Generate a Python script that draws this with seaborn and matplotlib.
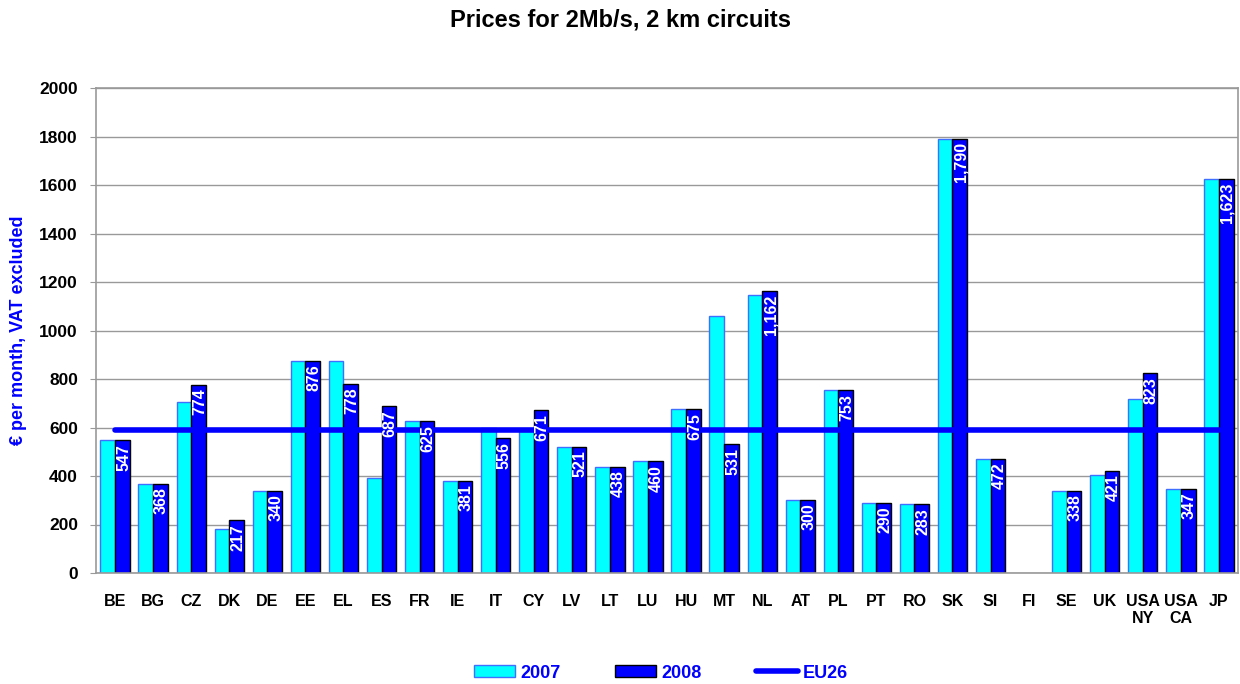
import numpy as np
import pandas as pd
import matplotlib
matplotlib.use('Agg')
import matplotlib.pyplot as plt
import seaborn as sns
from matplotlib.patches import Patch
from matplotlib.lines import Line2D

# data
countries = ['BE', 'BG', 'CZ', 'DK', 'DE', 'EE', 'EL', 'ES', 'FR', 'IE', 'IT', 'CY', 'LV', 'LT', 'LU',
             'HU', 'MT', 'NL', 'AT', 'PL', 'PT', 'RO', 'SK', 'SI', 'FI', 'SE', 'UK', 'USA\nNY', 'USA\nCA', 'JP']
prices_2007 = [547, 368, 707, 182, 340, 876, 873, 392, 625, 381, 600, 585, 521, 438, 460,
               675, 1060, 1146, 300, 753, 290, 283, 1790, 472, np.nan, 338, 404, 719, 347, 1623]
prices_2008 = [547, 368, 774, 217, 340, 876, 778, 687, 625, 381, 556, 671, 521, 438, 460,
               675, 531, 1162, 300, 753, 290, 283, 1790, 472, np.nan, 338, 421, 823, 347, 1623]
years = ['2007', '2008']
eu26 = 590

df = pd.DataFrame({
    'country': countries * 2,
    'year': [years[0]] * len(countries) + [years[1]] * len(countries),
    'price': prices_2007 + prices_2008,
})

sns.set_style('white')
plt.rcParams['font.family'] = ['Liberation Sans', 'DejaVu Sans']
plt.rcParams['font.weight'] = 'bold'
plt.rcParams['text.color'] = 'black'
plt.rcParams['xtick.color'] = 'black'
plt.rcParams['ytick.color'] = 'black'

fig = plt.figure(figsize=(12.4, 6.84), dpi=100)
ax = fig.add_axes([96 / 1240, 1 - 573 / 684, (1238 - 96) / 1240, (573 - 88) / 684])

bar_w = 0.77
sns.barplot(data=df, x='country', y='price', hue='year', order=countries,
            palette={'2007': '#00ffff', '2008': '#0000ff'}, width=bar_w, gap=0,
            saturation=1, ax=ax, legend=False, zorder=2)

edges = ['#3f6fff', 'black']
for cont, ec in zip(ax.containers, edges):
    for bar in cont:
        bar.set_edgecolor(ec)
        bar.set_linewidth(1.0)

# value labels on 2008 bars
for i, v in enumerate(prices_2008):
    if np.isnan(v):
        continue
    ax.text(i + bar_w / 4 + 0.03, v - 14, f'{int(v):,}',
            rotation=90, ha='center', va='top', color='white',
            fontsize=11.5, fontweight='bold', zorder=4)

# EU26 average line
ax.plot([0, len(countries) - 1], [eu26, eu26], color='#0000ff', lw=4, zorder=3)

ax.set_ylim(0, 2000)
ax.set_xlim(-0.5, len(countries) - 0.5)
ax.set_yticks(range(0, 2001, 200))
ax.yaxis.grid(True, color='#999999', lw=1)
ax.set_axisbelow(True)
for s in ax.spines.values():
    s.set_color('#999999')
    s.set_linewidth(1.2)
ax.tick_params(axis='y', left=True, length=4, color='#999999', labelcolor='black',
               labelsize=12.5, pad=9)
ax.tick_params(axis='x', length=0, labelsize=11.5, pad=15)
for lab in ax.get_xticklabels() + ax.get_yticklabels():
    lab.set_fontweight('bold')
ax.set_xlabel('')
ax.set_ylabel('€ per month, VAT excluded', color='#0000ff', fontsize=13,
              fontweight='bold', labelpad=9)

fig.text(0.5, 1 - 20 / 684, 'Prices for 2Mb/s, 2 km circuits', ha='center', va='center',
         fontsize=17, fontweight='bold')

handles = [Patch(facecolor='#00ffff', edgecolor='#3f6fff', label='2007'),
           Patch(facecolor='#0000ff', edgecolor='black', label='2008'),
           Line2D([], [], color='#0000ff', lw=4, label='EU26')]
leg = fig.legend(handles=handles, loc='center', bbox_to_anchor=(0.533, 1 - 673 / 684),
                 ncol=3, frameon=False, fontsize=13, handlelength=2.3, handleheight=0.6,
                 columnspacing=3.0, handletextpad=0.3)
for t in leg.get_texts():
    t.set_color('#0000ff')
    t.set_fontweight('bold')

fig.savefig('out.png', dpi=100)
